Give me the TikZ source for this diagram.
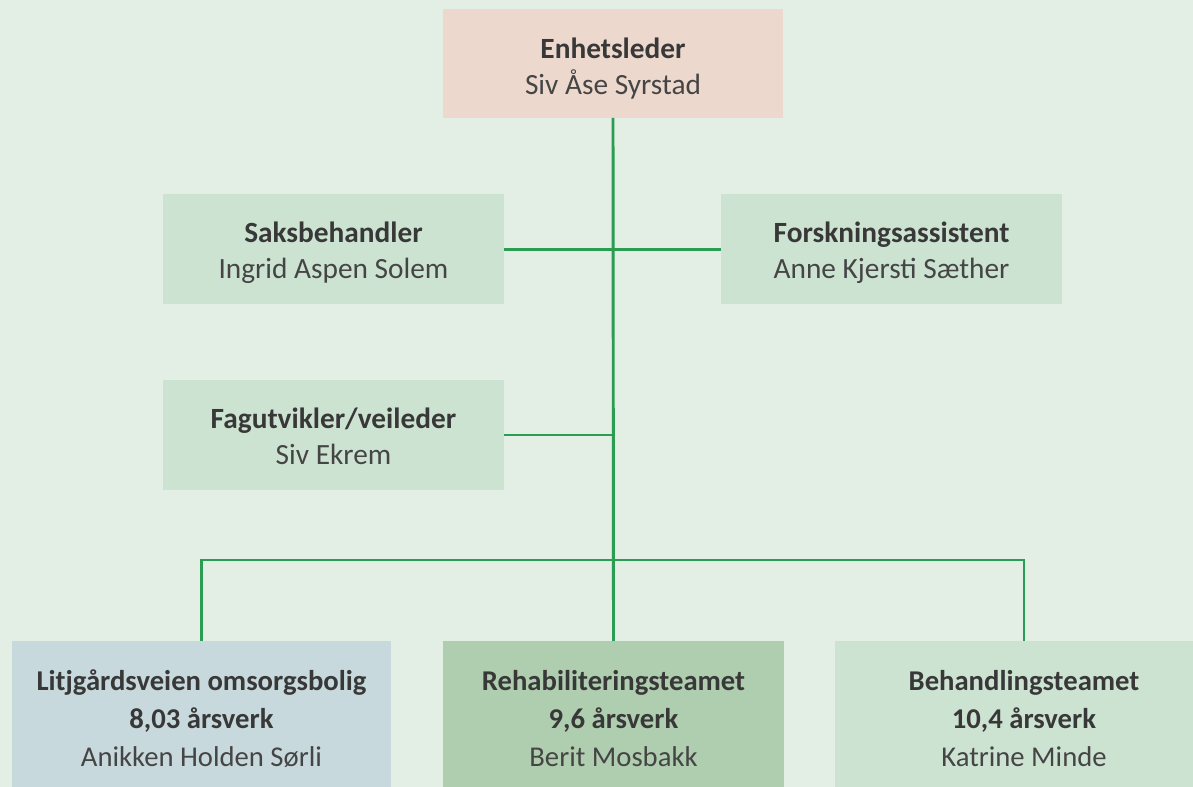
\documentclass[tikz,border=0pt]{standalone}
\usepackage{fontspec}
\setmainfont{Carlito}
\definecolor{bg}{HTML}{E3EEE4}
\definecolor{topc}{HTML}{EDD8CE}
\definecolor{midc}{HTML}{CDE3D2}
\definecolor{bluec}{HTML}{C7D9DC}
\definecolor{rehc}{HTML}{AFCDAF}
\definecolor{linec}{HTML}{2A9D52}
\definecolor{txt}{HTML}{383838}
\definecolor{txtl}{HTML}{454545}
\tikzset{
  box/.style={rectangle, inner sep=0pt, outer sep=0pt, text=txt,
    font=\fontsize{22}{27}\selectfont},
  bbox/.style={box, font=\fontsize{21.5}{28.5}\selectfont},
  conn/.style={draw=linec, line width=2.2pt, line join=miter}
}
\newcommand{\nm}[1]{{\color{txtl}#1}}
\newcommand{\txtlines}[2]{\raisebox{#1}[\height][\depth]{\begin{tabular}{@{}c@{}}#2\end{tabular}}}
\begin{document}
\begin{tikzpicture}[x=0.75pt,y=-0.75pt]
\useasboundingbox[fill=bg] (0,0) rectangle (1193,787);
\node[box, fill=topc, minimum width=0.75*340, minimum height=0.75*109] (top) at (613,63.5)
  {\txtlines{-4.6pt}{\textbf{Enhetsleder}\\\nm{Siv Åse Syrstad}}};
\node[box, fill=midc, minimum width=0.75*341, minimum height=0.75*110] (sak) at (333.5,249.5)
  {\txtlines{-3pt}{\textbf{Saksbehandler}\\\nm{Ingrid Aspen Solem}}};
\node[box, fill=midc, minimum width=0.75*341, minimum height=0.75*110] (fork) at (891.5,249.5)
  {\txtlines{-3pt}{\textbf{Forskningsassistent}\\\nm{Anne Kjersti Sæther}}};
\node[box, fill=midc, minimum width=0.75*341, minimum height=0.75*110] (fag) at (333.5,435)
  {\txtlines{-3pt}{\textbf{Fagutvikler/veileder}\\\nm{Siv Ekrem}}};
\node[bbox, fill=bluec, minimum width=0.75*379, minimum height=0.75*158] (litj) at (201.5,720)
  {\txtlines{-0.5pt}{\textbf{Litjgårdsveien omsorgsbolig}\\\textbf{8,03 årsverk}\\\nm{Anikken Holden Sørli}}};
\node[bbox, fill=rehc, minimum width=0.75*341, minimum height=0.75*158] (reh) at (613.5,720)
  {\txtlines{-0.5pt}{\textbf{Rehabiliteringsteamet}\\\textbf{9,6 årsverk}\\\nm{Berit Mosbakk}}};
\node[bbox, fill=midc, minimum width=0.75*378, minimum height=0.75*158] (beh) at (1024,720)
  {\txtlines{-0.5pt}{\textbf{Behandlingsteamet}\\\textbf{10,4 årsverk}\\\nm{Katrine Minde}}};
\coordinate (j) at (613,560);
\draw[conn] (top.south) -- (reh.north);
\draw[conn] (sak.east) -- (fork.west);
\draw[conn] (fag.east) -- (fag.east -| top.south);
\draw[conn] (litj.north) -- (litj.north |- j) -- (beh.north |- j) -- (beh.north);
\end{tikzpicture}
\end{document}
